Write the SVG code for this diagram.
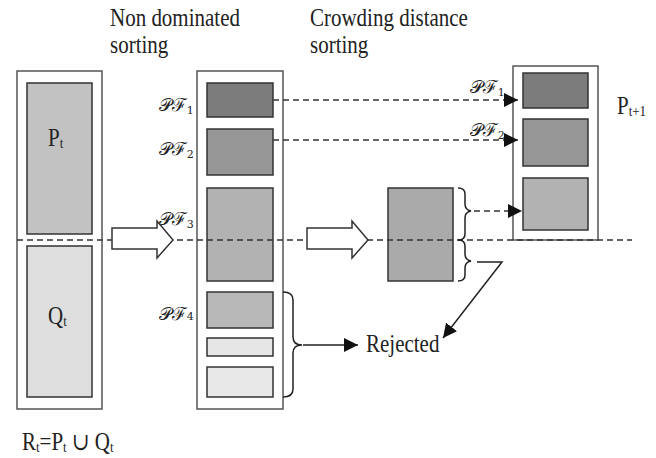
<svg xmlns="http://www.w3.org/2000/svg" width="656" height="458" viewBox="0 0 656 458">
<defs>
<style>
text.t{font-family:'Liberation Serif','Times New Roman','DejaVu Serif',serif;fill:#222;font-size:21px}
text.pf{font-family:'DejaVu Serif','Noto Sans',serif;fill:#222;font-size:18px}
.outer{fill:#fff;stroke:#555;stroke-width:1.5}
.in{stroke:#333;stroke-width:1.5}
.dash{stroke:#333;stroke-width:1.5;stroke-dasharray:6 4;fill:none}
.solid{stroke:#222;stroke-width:1.5;fill:none}
.hollow{fill:#fff;stroke:#333;stroke-width:1.5}
</style>
<marker id="ahb" viewBox="0 0 10 10" refX="10" refY="5" markerWidth="14" markerHeight="14" markerUnits="userSpaceOnUse" orient="auto">
<path d="M0,0 L10,5 L0,10 z" fill="#111"/>
</marker>
</defs>
<rect width="656" height="458" fill="#fff"/>

<g id="titles" font-family="'Liberation Serif','Times New Roman',serif">
<text class="t" transform="translate(110,26) scale(1,1.15)">Non dominated</text>
<text class="t" transform="translate(110,53) scale(1,1.15)">sorting</text>
<text class="t" transform="translate(310,26) scale(1,1.15)">Crowding distance</text>
<text class="t" transform="translate(310,53) scale(1,1.15)">sorting</text>
</g>

<g id="Rt">
<rect class="outer" x="17" y="71" width="85" height="338"/>
<rect class="in" x="27" y="83" width="65" height="151" fill="#c2c2c2"/>
<rect class="in" x="27" y="246" width="65" height="151" fill="#dedede"/>
<text class="t" transform="translate(48,146) scale(1,1.15)">P<tspan font-size="13" dy="2">t</tspan></text>
<text class="t" transform="translate(48,324) scale(1,1.15)">Q<tspan font-size="13" dy="2">t</tspan></text>
<text class="t" transform="translate(22,450) scale(1,1.15)">R<tspan font-size="13" dy="2">t</tspan><tspan dy="-2">=P</tspan><tspan font-size="13" dy="2">t</tspan><tspan dy="-2"> ∪ Q</tspan><tspan font-size="13" dy="2">t</tspan></text>
</g>

<g id="fronts">
<rect class="outer" x="197" y="71" width="86" height="338"/>
<rect class="in" x="207" y="83" width="66" height="34" fill="#7c7c7c"/>
<rect class="in" x="207" y="129" width="66" height="46" fill="#969696"/>
<rect class="in" x="207" y="188" width="66" height="93" fill="#b2b2b2"/>
<rect class="in" x="207" y="292" width="66" height="36" fill="#b8b8b8"/>
<rect class="in" x="207" y="338" width="66" height="18" fill="#e6e6e6"/>
<rect class="in" x="207" y="367" width="66" height="30" fill="#e8e8e8"/>
<text class="pf" x="159" y="111">𝒫ℱ<tspan font-size="11" dy="3">1</tspan></text>
<text class="pf" x="159" y="155">𝒫ℱ<tspan font-size="11" dy="3">2</tspan></text>
<text class="pf" x="159" y="225">𝒫ℱ<tspan font-size="11" dy="3">3</tspan></text>
<text class="pf" x="159" y="320">𝒫ℱ<tspan font-size="11">4</tspan></text>
</g>

<g id="crowding">
<rect class="in" x="388" y="188" width="65" height="93" fill="#aaaaaa"/>
</g>

<g id="Pt1">
<rect class="outer" x="513" y="66" width="85" height="174"/>
<rect class="in" x="523" y="73" width="65" height="35" fill="#7c7c7c"/>
<rect class="in" x="523" y="119" width="65" height="47" fill="#969696"/>
<rect class="in" x="523" y="178" width="65" height="52" fill="#b2b2b2"/>
<text class="t" transform="translate(617,114) scale(1,1.15)">P<tspan font-size="13" dy="2">t+1</tspan></text>
<text class="pf" x="470" y="93">𝒫ℱ<tspan font-size="11" dy="3">1</tspan></text>
<text class="pf" x="470" y="136">𝒫ℱ<tspan font-size="11" dy="3">2</tspan></text>
</g>

<g id="rejected">
<text class="t" transform="translate(366,352) scale(1,1.15)">Rejected</text>
</g>

<g id="connectors">
<line class="dash" x1="17" y1="240" x2="632" y2="240"/>
<path class="hollow" d="M112,228 H157 V221 L173,240 L157,258 V249 H112 Z"/>
<path class="hollow" d="M307,228 H352 V221 L368,240 L352,258 V249 H307 Z"/>
<line class="dash" x1="273" y1="100" x2="518" y2="100" marker-end="url(#ahb)"/>
<line class="dash" x1="273" y1="140" x2="518" y2="140" marker-end="url(#ahb)"/>
<line class="dash" x1="474" y1="211" x2="522" y2="211" marker-end="url(#ahb)"/>
<path class="solid" d="M458,188 q7,0 7,6 v10 q0,6 6,7 q-6,1 -6,7 v16 q0,6 -7,6"/>
<path class="solid" d="M458,240 q7,0 7,6 v8 q0,6 6,7 q-6,1 -6,7 v7 q0,6 -7,6"/>
<path class="solid" d="M283,292 q10,0 10,8 v37 q0,8 9,8 q-9,0 -9,8 v36 q0,8 -10,8"/>
<line class="solid" x1="303" y1="345" x2="358" y2="345" marker-end="url(#ahb)"/>
<path class="solid" d="M477,262 H502 L443,338" marker-end="url(#ahb)"/>
</g>
</svg>
